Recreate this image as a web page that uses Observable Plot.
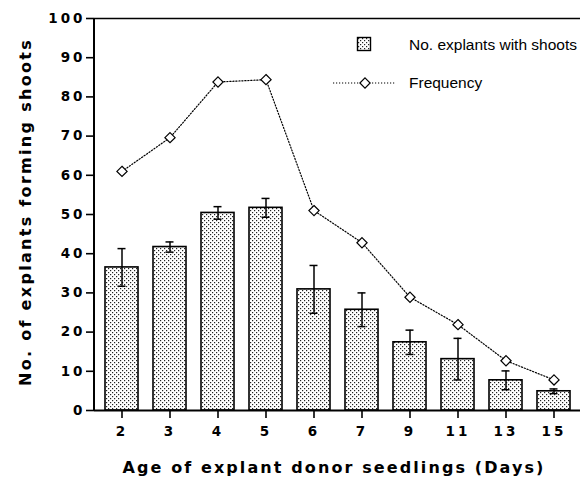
<!DOCTYPE html>
<html>
<head>
<meta charset="utf-8">
<script src="https://cdn.jsdelivr.net/npm/d3@7"></script>
<script src="https://cdn.jsdelivr.net/npm/@observablehq/plot@0.6"></script>
<style>
  html, body { margin: 0; padding: 0; background: #fff; }
  #chart svg { display: block; }
</style>
</head>
<body>
<div id="chart"></div>
<script>
// Data
const days = ["2", "3", "4", "5", "6", "7", "9", "11", "13", "15"];
const explantsWithShoots = [36.5, 41.7, 50.4, 51.7, 30.9, 25.7, 17.4, 13.1, 7.7, 4.9];
const errors = [4.8, 1.3, 1.6, 2.4, 6.1, 4.3, 3.1, 5.3, 2.4, 0.6];
const frequency = [61.0, 69.6, 83.8, 84.4, 51.0, 42.8, 28.9, 21.9, 12.7, 7.8];
const yTicks = [0, 10, 20, 30, 40, 50, 60, 70, 80, 90, 100];
const xTitle = "Age of explant donor seedlings (Days)";
const yTitle = "No. of explants forming shoots";
const legendBars = "No. explants with shoots";
const legendLine = "Frequency";

const rows = days.map((d, i) => ({
  day: d,
  n: explantsWithShoots[i],
  lo: explantsWithShoots[i] - errors[i],
  hi: explantsWithShoots[i] + errors[i],
  freq: frequency[i]
}));

const chart = Plot.plot({
  width: 581,
  height: 481,
  marginLeft: 94,
  marginRight: 1,
  marginTop: 18,
  marginBottom: 71,
  style: {background: "#fff", color: "#000"},
  x: {domain: days, paddingInner: 0.32, paddingOuter: 0.16, axis: null},
  y: {domain: [0, 100], axis: null},
  marks: [
    Plot.barY(rows, {x: "day", y: "n", fill: "url(#dotpat)", stroke: "#000", strokeWidth: 1.6}),
    Plot.ruleX(rows, {x: "day", y1: "lo", y2: "hi", stroke: "#000", strokeWidth: 1.5}),
    Plot.tickY(rows, {x: "day", y: "hi", insetLeft: 12.5, insetRight: 12.5, stroke: "#000", strokeWidth: 1.5}),
    Plot.tickY(rows, {x: "day", y: "lo", insetLeft: 12.5, insetRight: 12.5, stroke: "#000", strokeWidth: 1.5}),
    Plot.line(rows, {x: "day", y: "freq", stroke: "#000", strokeWidth: 1.2, strokeDasharray: "1.2,1.8"}),
    Plot.dot(rows, {x: "day", y: "freq", symbol: "diamond2", r: 4.6, fill: "#fff", stroke: "#000", strokeWidth: 1.2}),
    Plot.ruleY([0], {stroke: "#000", strokeWidth: 2}),
    Plot.ruleY([100], {stroke: "#000", strokeWidth: 1.6}),
    Plot.axisY({ticks: yTicks, anchor: "left", tickSize: 8, tickPadding: 1, tickFormat: d => String(d), label: null, strokeWidth: 1.6}),
    Plot.axisX({anchor: "bottom", tickSize: 8, tickPadding: 8, label: null, strokeWidth: 1.6})
  ]
});

const svg = d3.select(chart);
// dotted pattern fill for bars
const defs = svg.insert("defs", ":first-child");
const pat = defs.append("pattern").attr("id", "dotpat").attr("patternUnits", "userSpaceOnUse")
  .attr("width", 4).attr("height", 4);
pat.append("rect").attr("width", 4).attr("height", 4).attr("fill", "#fff");
pat.append("rect").attr("x", 0).attr("y", 0).attr("width", 1.2).attr("height", 1.2).attr("fill", "#222");
pat.append("rect").attr("x", 2).attr("y", 2).attr("width", 1.2).attr("height", 1.2).attr("fill", "#222");

// tick label styling: bold, wide
svg.selectAll("text")
  .style("font-family", "DejaVu Sans")
  .style("font-weight", "bold")
  .style("font-size", "13.5px")
  .style("letter-spacing", "3px");

// left axis line
const ys = chart.scale("y");
svg.append("line").attr("x1", 94).attr("x2", 94).attr("y1", ys.apply(100)).attr("y2", ys.apply(0))
  .attr("stroke", "#000").attr("stroke-width", 2);

// axis titles
svg.append("text").text(xTitle)
  .attr("x", 334).attr("y", 473).attr("text-anchor", "middle")
  .style("font-family", "DejaVu Sans").style("font-weight", "bold").style("font-size", "16px")
  .style("letter-spacing", "2.1px");
svg.append("text").text(yTitle)
  .attr("transform", "translate(31,212) rotate(-90)").attr("text-anchor", "middle")
  .style("font-family", "DejaVu Sans").style("font-weight", "bold").style("font-size", "16px")
  .style("letter-spacing", "2.3px");

// legend
const lg = svg.append("g").attr("text-anchor", "start");
lg.append("rect").attr("x", 357.5).attr("y", 37.5).attr("width", 13).attr("height", 13)
  .attr("fill", "url(#dotpat)").attr("stroke", "#000").attr("stroke-width", 1.4);
lg.append("text").text(legendBars).attr("x", 409).attr("y", 50)
  .style("font-family", "Liberation Sans").style("font-size", "15.5px");
lg.append("line").attr("x1", 333).attr("x2", 396).attr("y1", 83).attr("y2", 83)
  .attr("stroke", "#000").attr("stroke-width", 1.2).attr("stroke-dasharray", "1.2,1.8");
lg.append("path").attr("d", d3.symbol(d3.symbolDiamond2, Math.PI * 4.6 * 4.6)())
  .attr("transform", "translate(365,83)").attr("fill", "#fff").attr("stroke", "#000").attr("stroke-width", 1.2);
lg.append("text").text(legendLine).attr("x", 409).attr("y", 88)
  .style("font-family", "Liberation Sans").style("font-size", "15.5px");

document.getElementById("chart").appendChild(chart);
</script>
</body>
</html>
